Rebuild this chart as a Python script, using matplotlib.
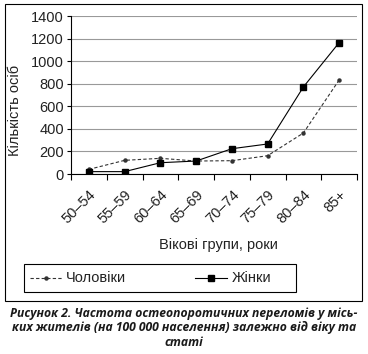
import numpy as np
import matplotlib.pyplot as plt
from matplotlib.patches import Rectangle
from matplotlib.lines import Line2D
from matplotlib.transforms import ScaledTranslation

# Дані з рисунка
groups = ['50–54', '55–59', '60–64', '65–69', '70–74', '75–79', '80–84', '85+']
men = [41, 121, 139, 115, 118, 162, 363, 833]
women = [21, 21, 100, 115, 224, 266, 771, 1164]
yticks = [0, 200, 400, 600, 800, 1000, 1200, 1400]

plt.rcParams['font.family'] = ['Liberation Sans', 'DejaVu Sans']
FS = 10.5

W, H = 368, 354
fig = plt.figure(figsize=(W / 100, H / 100), dpi=100)
ax = fig.add_axes([71 / W, 1 - 174 / H, 286 / W, 158 / H])

x = np.arange(len(groups))
ax.plot(x, men, color='#333333', ls=(0, (3, 2)), lw=0.8, marker='o', ms=2.2,
        label='Чоловіки')
ax.plot(x, women, color='black', ls='-', lw=0.8, marker='s', ms=5,
        label='Жінки')

ax.set_xlim(-0.5, len(groups) - 0.5)
ax.set_ylim(0, 1400)
ax.set_yticks(yticks)
ax.set_yticklabels([str(v) for v in yticks], fontsize=FS, color='#222222')
ax.yaxis.grid(True, color='#999999', lw=0.8)
ax.set_axisbelow(True)
ax.tick_params(axis='y', length=3, width=0.8, pad=2)

ax.set_xticks(np.arange(len(groups) + 1) - 0.5)
ax.set_xticklabels([])
ax.set_xticks(x, minor=True)
ax.set_xticklabels(groups, minor=True, rotation=45, ha='right', va='top',
                   rotation_mode='anchor', fontsize=FS, color='#222222')
off = ScaledTranslation(7 / 100, 0, fig.dpi_scale_trans)
for lab in ax.get_xticklabels(minor=True):
    lab.set_transform(lab.get_transform() + off)
ax.tick_params(axis='x', which='major', length=4, width=0.8)
ax.tick_params(axis='x', which='minor', length=0, pad=10)

for s in ['top', 'right']:
    ax.spines[s].set_visible(False)
for s in ['left', 'bottom']:
    ax.spines[s].set_linewidth(0.8)

ax.set_ylabel('Кількість осіб', fontsize=FS, color='#222222', va='center')
ax.yaxis.set_label_coords((15 - 71) / 286, (174 - 110) / 158)
fig.text(218 / W, 1 - 245 / H, 'Вікові групи, роки', ha='center', va='center',
         fontsize=FS, color='#222222')

# рамка навколо графіка
fig.patches.append(Rectangle((5 / W, 1 - 301 / H), 357 / W, 297 / H,
                             transform=fig.transFigure, fill=False,
                             ec='black', lw=0.8))
# легенда
fig.patches.append(Rectangle((24 / W, 1 - 292 / H), 272 / W, 28 / H,
                             transform=fig.transFigure, fill=False,
                             ec='black', lw=0.8))
ly = 1 - 278 / H
fig.lines.append(Line2D([30 / W, 62 / W], [ly, ly], transform=fig.transFigure,
                        color='#333333', ls=(0, (3, 2)), lw=0.8))
fig.lines.append(Line2D([46 / W], [ly], transform=fig.transFigure,
                        color='#333333', marker='o', ms=2.2))
fig.text(66 / W, ly, 'Чоловіки', ha='left', va='center', fontsize=FS,
         color='#222222')
fig.lines.append(Line2D([195 / W, 227 / W], [ly, ly], transform=fig.transFigure,
                        color='black', lw=0.8))
fig.lines.append(Line2D([211 / W], [ly], transform=fig.transFigure,
                        color='black', marker='s', ms=5))
fig.text(232 / W, ly, 'Жінки', ha='left', va='center', fontsize=FS,
         color='#222222')

# підпис
cap = dict(ha='center', va='center', fontsize=8.7, fontweight='bold',
           fontstyle='italic', family='Open Sans', color='#1a1a1a')
fig.text(184 / W, 1 - 314 / H,
         'Рисунок 2. Частота остеопоротичних переломів у місь-', **cap)
fig.text(184 / W, 1 - 328 / H,
         'ких жителів (на 100 000 населення) залежно від віку та', **cap)
fig.text(184 / W, 1 - 342 / H, 'статі', **cap)

fig.savefig('out.png', dpi=100)
